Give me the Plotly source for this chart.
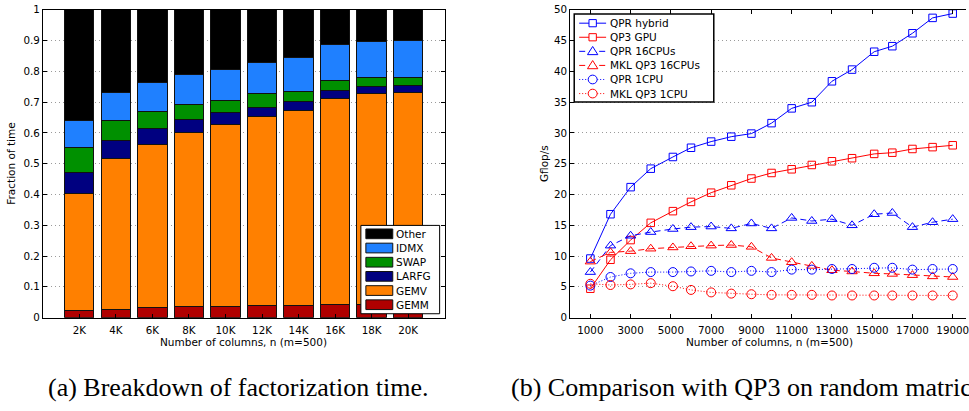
import plotly.graph_objects as go

W, H = 969, 411

# ---------------- left chart data (fractions of time) ----------------
sizes = ["2K", "4K", "6K", "8K", "10K", "12K", "14K", "16K", "18K", "20K"]
gemm  = [0.024, 0.028, 0.032, 0.035, 0.037, 0.039, 0.041, 0.043, 0.044, 0.045]
gemv  = [0.379, 0.489, 0.529, 0.566, 0.591, 0.613, 0.633, 0.668, 0.684, 0.687]
larfg = [0.067, 0.058, 0.053, 0.042, 0.037, 0.032, 0.028, 0.028, 0.022, 0.023]
swap  = [0.082, 0.064, 0.057, 0.049, 0.041, 0.044, 0.034, 0.032, 0.030, 0.026]
idmx  = [0.089, 0.091, 0.092, 0.098, 0.101, 0.102, 0.109, 0.115, 0.117, 0.118]
other = [0.359, 0.270, 0.237, 0.210, 0.193, 0.170, 0.155, 0.114, 0.103, 0.101]
left_yticks = [0, 0.1, 0.2, 0.3, 0.4, 0.5, 0.6, 0.7, 0.8, 0.9, 1]
left_yticktext = ["0", "0.1", "0.2", "0.3", "0.4", "0.5", "0.6", "0.7", "0.8", "0.9", "1"]

# ---------------- right chart data (Gflop/s) ----------------
n_cols = [1000, 2000, 3000, 4000, 5100, 6000, 7000, 8000, 9000, 10000,
          11000, 12000, 13000, 14000, 15100, 16000, 17000, 18000, 19000]
qpr_hybrid = [9.6, 16.8, 21.2, 24.2, 26.1, 27.6, 28.6, 29.4, 29.9, 31.6,
              34.0, 35.0, 38.4, 40.3, 43.2, 44.1, 46.2, 48.7, 49.4]
qp3_gpu    = [4.7, 9.4, 12.6, 15.4, 17.3, 18.8, 20.3, 21.5, 22.6, 23.5,
              24.1, 24.8, 25.4, 25.9, 26.6, 26.8, 27.4, 27.7, 28.0]
qpr_16cpu  = [7.4, 11.7, 13.3, 13.9, 14.4, 14.7, 14.8, 14.5, 15.3, 14.5,
              16.2, 15.7, 16.0, 15.0, 16.8, 17.0, 14.7, 15.5, 16.0]
mkl_16cpu  = [9.1, 10.6, 10.8, 11.2, 11.4, 11.6, 11.7, 11.8, 11.5, 9.7,
              9.0, 8.4, 7.7, 7.5, 7.2, 7.1, 6.9, 6.7, 6.6]
qpr_1cpu   = [5.2, 6.6, 7.2, 7.4, 7.4, 7.5, 7.6, 7.4, 7.6, 7.4,
              7.8, 7.8, 7.9, 7.9, 8.1, 8.1, 7.8, 7.9, 7.9]
mkl_1cpu   = [5.5, 5.3, 5.4, 5.6, 5.1, 4.5, 4.1, 3.9, 3.8, 3.7,
              3.7, 3.7, 3.6, 3.6, 3.6, 3.6, 3.6, 3.6, 3.6]
right_xticks = [1000, 3000, 5000, 7000, 9000, 11000, 13000, 15000, 17000, 19000]
right_yticks = [0, 5, 10, 15, 20, 25, 30, 35, 40, 45, 50]

SANS = "DejaVu Sans"
SERIF = "Liberation Serif"
TICKSZ = 10.3
LEGSZ = 10.5


def px(x):
    return x / W


def py(y):
    return 1 - y / H


fig = go.Figure()

stack = [
    ("GEMM", gemm, "#b00000"),
    ("GEMV", gemv, "#ff8000"),
    ("LARFG", larfg, "#000080"),
    ("SWAP", swap, "#009000"),
    ("IDMX", idmx, "#1f80ff"),
    ("Other", other, "#000000"),
]
for name, vals, col in stack:
    fig.add_trace(go.Bar(
        x=sizes, y=vals, name=name, width=0.8,
        marker=dict(color=col, line=dict(color="#111111", width=1)),
        xaxis="x", yaxis="y", showlegend=False))

series = [
    ("QPR hybrid", qpr_hybrid, "#0000ff", "solid", "square-open", 7.5),
    ("QP3 GPU", qp3_gpu, "#ff0000", "solid", "square-open", 7.5),
    ("QPR 16CPUs", qpr_16cpu, "#0000ff", "6px,4px", "triangle-up-open", 9),
    ("MKL QP3 16CPUs", mkl_16cpu, "#ff0000", "6px,4px", "triangle-up-open", 9),
    ("QPR 1CPU", qpr_1cpu, "#0000ff", "1px,2px", "circle-open", 9),
    ("MKL QP3 1CPU", mkl_1cpu, "#ff0000", "1px,2px", "circle-open", 9),
]
for name, vals, col, dash, sym, msz in series:
    fig.add_trace(go.Scatter(
        x=n_cols, y=vals, name=name, mode="lines+markers",
        line=dict(color=col, width=1, dash=dash),
        marker=dict(symbol=sym, size=msz, color=col, line=dict(width=1, color=col)),
        xaxis="x2", yaxis="y2", showlegend=False))

axis_common = dict(
    showline=True, linecolor="black", linewidth=1,
    ticks="inside", ticklen=4, tickcolor="black",
    tickfont=dict(family=SANS, size=TICKSZ, color="black"),
    zeroline=False, ticklabeloverflow="allow",
)

ydom = [py(321), py(4)]
fig.update_layout(
    width=W, height=H,
    margin=dict(l=0, r=0, t=0, b=0),
    paper_bgcolor="white", plot_bgcolor="white",
    barmode="stack", bargap=0.2,
    xaxis=dict(domain=[px(43), px(446)], type="category", range=[-1, 10],
               mirror="ticks", showgrid=False, ticklabelstandoff=3, **axis_common),
    yaxis=dict(domain=ydom, range=[0, 1], tickvals=left_yticks, ticktext=left_yticktext,
               mirror="ticks", showgrid=True, gridcolor="#9a9a9a", griddash="1px,3px",
               gridwidth=1, **axis_common),
    xaxis2=dict(domain=[px(572), 1], range=[0, 19660], tickvals=right_xticks,
                tickformat="d", mirror="ticks", showgrid=False, anchor="y2",
                ticklabelstandoff=3, **axis_common),
    yaxis2=dict(domain=ydom, range=[0, 50], tickvals=right_yticks, anchor="x2",
                mirror=False, showgrid=True, gridcolor="#9a9a9a", griddash="1px,3px",
                gridwidth=1, **axis_common),
    showlegend=False,
)

shapes = []
annotations = []


def text(x, y, s, size, family=SANS, xanchor="center", angle=0):
    annotations.append(dict(
        x=px(x), y=py(y), xref="paper", yref="paper", text=s, showarrow=False,
        xanchor=xanchor, yanchor="middle", textangle=angle, borderpad=0,
        font=dict(family=family, size=size, color="black")))


# axis titles
text(244.5, 346, "Number of columns, n (m=500)", 10.5)
text(772, 346, "Number of columns, n (m=500)", 10.5)
text(11, 162.5, "Fraction of time", 10.5, angle=-90)
text(545, 162.5, "Gflop/s", 10.5, angle=-90)

# captions
text(47, 393, "(a) Breakdown of factorization time.", 26, family=SERIF, xanchor="left")
text(512, 393, "(b) Comparison with QP3 on random matrices.", 26, family=SERIF, xanchor="left")

# ---- left legend (custom) ----
shapes.append(dict(type="rect", xref="paper", yref="paper", layer="above",
                   x0=px(362), x1=px(441), y0=py(317), y1=py(226),
                   fillcolor="white", line=dict(color="black", width=1)))
for i, (name, vals, col) in enumerate(reversed(stack)):
    yc = 234.7 + i * 14.6
    shapes.append(dict(type="rect", xref="paper", yref="paper", layer="above",
                       x0=px(367), x1=px(394), y0=py(yc + 5), y1=py(yc - 5),
                       fillcolor=col, line=dict(color="#111111", width=1)))
    text(396.5, yc, name, LEGSZ, xanchor="left")

# ---- right legend (custom) ----
shapes.append(dict(type="rect", xref="paper", yref="paper", layer="above",
                   x0=px(576), x1=px(716), y0=py(99), y1=py(8.3),
                   fillcolor="white", line=dict(color="black", width=1.5)))
for i, (name, vals, col, dash, sym, msz) in enumerate(series):
    yc = 17.7 + i * 14.5
    shapes.append(dict(type="line", xref="paper", yref="paper", layer="above",
                       x0=px(581), x1=px(608), y0=py(yc), y1=py(yc),
                       line=dict(color=col, width=1, dash=dash)))
    cx = 594.5
    if sym.startswith("square"):
        shapes.append(dict(type="rect", xref="paper", yref="paper", layer="above",
                           x0=px(cx - 3.7), x1=px(cx + 3.7), y0=py(yc + 3.7), y1=py(yc - 3.7),
                           fillcolor="white", line=dict(color=col, width=1)))
    elif sym.startswith("triangle"):
        path = "M{},{} L{},{} L{},{} Z".format(
            px(cx - 5.2), py(yc + 3.4), px(cx + 5.2), py(yc + 3.4), px(cx), py(yc - 5.0))
        shapes.append(dict(type="path", xref="paper", yref="paper", layer="above",
                           path=path, fillcolor="white", line=dict(color=col, width=1)))
    else:
        shapes.append(dict(type="circle", xref="paper", yref="paper", layer="above",
                           x0=px(cx - 4.5), x1=px(cx + 4.5), y0=py(yc + 4.5), y1=py(yc - 4.5),
                           fillcolor="white", line=dict(color=col, width=1)))
    text(611, yc, name, LEGSZ, xanchor="left")

fig.update_layout(shapes=shapes, annotations=annotations)
fig.write_html("out.html")
